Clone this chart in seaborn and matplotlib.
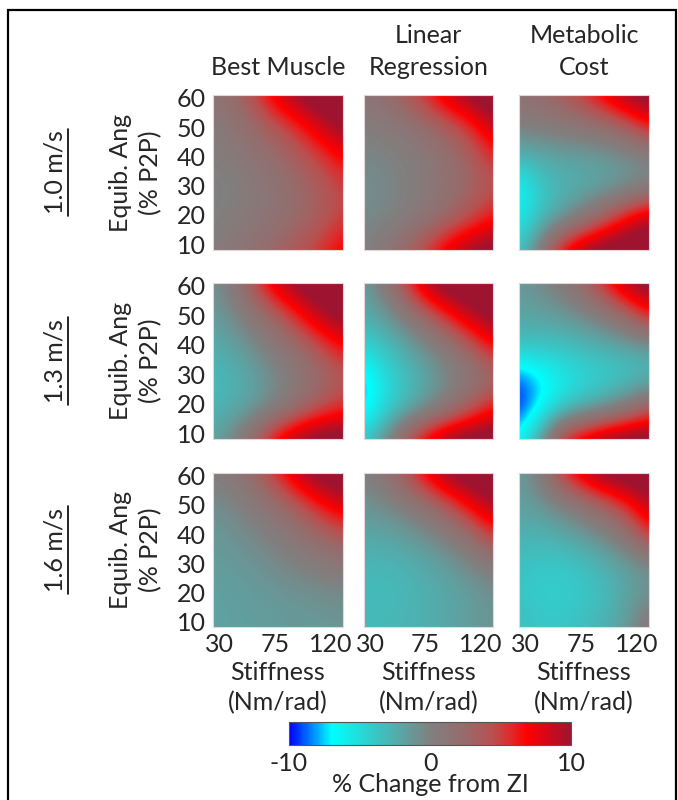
import numpy as np
import seaborn as sns
import matplotlib
matplotlib.use("Agg")
import matplotlib.pyplot as plt
from matplotlib.colors import LinearSegmentedColormap, Normalize
from matplotlib.patches import Rectangle
from matplotlib.lines import Line2D

# grid (stiffness across, equilibrium angle up)
stiffness = [25, 42.5, 60, 77.5, 95, 112.5, 130]
angle = [8, 18.6, 29.2, 39.8, 50.4, 61]

speeds = ["1.0 m/s", "1.3 m/s", "1.6 m/s"]
methods = ["\nBest Muscle", "Linear\nRegression", "Metabolic\nCost"]
x_ticks = [30, 75, 120]
y_ticks = [10, 20, 30, 40, 50, 60]
cb_ticks = [-10, 0, 10]

# % change from ZI, rows = angle from low to high
best_10 = [[0.5, 1.2, 2, 3, 4.2, 5.5, 7.5],
           [0, 0.5, 1, 1.7, 2.5, 3.5, 5],
           [-0.3, 0.2, 0.8, 1.5, 2.5, 3.5, 4.8],
           [0.3, 0.8, 1.5, 2.3, 3.5, 5, 7],
           [0.7, 1.3, 2.5, 4, 6, 8.5, 10.5],
           [1.5, 2.5, 5, 8.5, 10.5, 12, 12]]
linreg_10 = [[0, 1.3, 3, 5.5, 8.5, 10.5, 11.5],
             [-0.7, -0.3, 0.5, 1.5, 2.8, 4.5, 6.5],
             [-0.8, -0.5, 0, 0.8, 1.7, 2.8, 4],
             [-0.5, -0.2, 0.3, 1, 2, 3.3, 5.5],
             [0.3, 0.7, 1.2, 2.2, 3.5, 5.5, 9],
             [1.3, 2.2, 3.8, 6.2, 9, 11, 12]]
metab_10 = [[-4, 1, 7.5, 10.5, 12, 12, 12],
            [-6, -3.5, -1.5, 1, 4, 7.5, 10],
            [-7, -4, -3, -2.5, -2, -1.2, 0],
            [-3, -2.4, -2, -1.8, -1.5, -1, -0.5],
            [0.2, 0.5, 0.8, 1.3, 2, 3.5, 6.5],
            [1.7, 2.5, 3.7, 5.5, 8, 10.5, 11.5]]

best_13 = [[-2, 0, 3.5, 8, 10.5, 12, 12],
           [-3, -2.5, -1.5, 0, 2, 4, 5.5],
           [-3.2, -2.8, -1.8, -0.5, 1, 2.2, 3.5],
           [-2.5, -1.8, -0.5, 1, 2.5, 4.5, 7],
           [-1.5, -0.5, 1.5, 3.5, 6.5, 9.5, 11],
           [-1, 1, 5, 9, 11, 12, 12]]
linreg_13 = [[-4, -0.5, 4.5, 8.5, 11, 12, 12],
             [-8, -5, -3, -1.2, 1, 3.5, 6.5],
             [-8, -5, -3.5, -2, -0.5, 0.8, 2],
             [-4.5, -3.5, -2, -0.5, 1.2, 3.5, 7],
             [-2.5, -1.3, 0.8, 3.5, 6.5, 9.5, 11],
             [-1.5, 1, 5.5, 10, 12, 12, 12]]
metab_13 = [[-6.5, -1.5, 6.5, 9, 11, 12, 12],
            [-10, -7, -4.5, -3, -1.5, 0.5, 3.5],
            [-9, -7.5, -6, -5, -4.5, -4, -3.5],
            [-3.5, -3.5, -3.5, -3, -2.5, -2, -1.5],
            [-2, -1.8, -1.3, -0.5, 0.8, 3, 6.5],
            [-1.3, -0.5, 0.8, 3, 6.5, 10, 11.5]]

best_16 = [[-1.8, -1.7, -1.6, -1.5, -1.4, -1.3, -1.2],
           [-1.8, -1.7, -1.5, -1.3, -1.1, -0.9, -0.7],
           [-1.6, -1.4, -1.1, -0.6, 0, 0.5, 1],
           [-1.3, -1, -0.3, 0.5, 1.5, 2.7, 4],
           [-0.8, -0.2, 0.8, 2.2, 4, 6.5, 8.5],
           [0.5, 1, 3, 6, 9.5, 11.5, 12]]
linreg_16 = [[-3, -3, -2.8, -2.5, -2, -1.5, -1],
             [-3.3, -3.3, -3, -2.6, -2.2, -1.6, -1],
             [-3, -3, -2.7, -2.2, -1.5, -0.5, 0.5],
             [-2.2, -2, -1.5, -0.7, 0.5, 2.3, 5.5],
             [-1, -0.5, 0.5, 2.2, 4.5, 7.5, 10],
             [0, 1.5, 4.5, 8, 11, 12, 12]]
metab_16 = [[-3.3, -3.8, -3.8, -3.3, -2.5, -1.5, 1.5],
            [-3.8, -4.3, -4.3, -4, -3.3, -2, -0.8],
            [-3.5, -4, -4, -3.5, -2.7, -1.8, -1],
            [-2.7, -2.8, -2.3, -1.5, -0.3, 1.5, 5.5],
            [-1.8, -1.2, 0, 1.5, 3.5, 6, 9.5],
            [-1.5, 0.5, 5.5, 9, 11.5, 12, 12]]

panels = [[best_10, linreg_10, metab_10],
          [best_13, linreg_13, metab_13],
          [best_16, linreg_16, metab_16]]

sns.set_theme(style="white")
plt.rcParams["font.family"] = ["Lato", "DejaVu Sans"]
plt.rcParams["axes.unicode_minus"] = False
FS = 18

cmap = LinearSegmentedColormap.from_list(
    "zi", [(0.0, "#0000ff"), (0.15, "#00ffff"), (0.5, "#808080"),
           (0.62, "#966c6c"), (0.72, "#b95050"), (0.79, "#e12828"),
           (0.845, "#ff0000"), (1.0, "#9e1430")])
norm = Normalize(-10, 10)

W, H = 678, 800
fig = plt.figure(figsize=(W / 100, H / 100), dpi=100)


def fx(px):
    return px / W


def fy(px):
    return 1 - px / H


col_px = [(213, 343), (364, 493), (519, 649)]
row_px = [(95, 250), (283, 439), (473, 627)]

dx = (stiffness[1] - stiffness[0]) / 2
dy = (angle[1] - angle[0]) / 2
ext = [stiffness[0] - dx, stiffness[-1] + dx, angle[0] - dy, angle[-1] + dy]

for i, (y0, y1) in enumerate(row_px):
    for j, (x0, x1) in enumerate(col_px):
        ax = fig.add_axes([fx(x0), fy(y1), (x1 - x0) / W, (y1 - y0) / H])
        ax.imshow(np.array(panels[i][j]), origin="lower", extent=ext,
                  aspect="auto", cmap=cmap, norm=norm, interpolation="bicubic")
        ax.set_xlim(stiffness[0], stiffness[-1])
        ax.set_ylim(angle[0], angle[-1])
        for s in ax.spines.values():
            s.set_color("#e6d6da")
            s.set_linewidth(0.8)
        ax.tick_params(length=0, labelsize=FS)
        ax.set_xticks(x_ticks)
        ax.set_yticks(y_ticks)
        if j == 0:
            ax.tick_params(axis="y", pad=5)
        else:
            ax.set_yticklabels([])
        if i == 2:
            ax.tick_params(axis="x", pad=4)
            xc = (x0 + x1) / 2
            fig.text(fx(xc), fy(680), "Stiffness", ha="center",
                     va="baseline", fontsize=FS)
            fig.text(fx(xc), fy(710), "(Nm/rad)", ha="center",
                     va="baseline", fontsize=FS)
        else:
            ax.set_xticklabels([])

# column titles, one line at a time
for j, (x0, x1) in enumerate(col_px):
    for line, base in zip(methods[j].split("\n"), [43, 75]):
        if line:
            fig.text(fx((x0 + x1) / 2), fy(base), line, ha="center",
                     va="baseline", fontsize=FS)

row_texts = []
for i, (y0, y1) in enumerate(row_px):
    yc = fy((y0 + y1) / 2)
    fig.text(fx(120), yc, "Equib. Ang", rotation=90, ha="center",
             va="center", fontsize=FS)
    fig.text(fx(151), yc, "(% P2P)", rotation=90, ha="center",
             va="center", fontsize=FS)
    row_texts.append(fig.text(fx(55), yc, speeds[i], rotation=90,
                              ha="center", va="center", fontsize=FS))

cax = fig.add_axes([fx(289), fy(745), 282 / W, 23 / H])
cb = fig.colorbar(plt.cm.ScalarMappable(norm=norm, cmap=cmap), cax=cax,
                  orientation="horizontal", ticks=cb_ticks)
cb.outline.set_edgecolor("#555555")
cb.outline.set_linewidth(0.8)
cax.tick_params(length=0, labelsize=FS, pad=5)
fig.text(fx(430), fy(792), "% Change from ZI", ha="center", va="baseline",
         fontsize=FS)

# underline the speed labels
fig.canvas.draw()
inv = fig.transFigure.inverted()
for t in row_texts:
    bb = t.get_window_extent()
    (ax0, ay0), (ax1, ay1) = inv.transform([[bb.x1 + 1, bb.y0 - 2],
                                            [bb.x1 + 1, bb.y1 + 2]])
    fig.add_artist(Line2D([ax0, ax1], [ay0, ay1], color="black", lw=1.2,
                          transform=fig.transFigure))

# outer frame
fig.add_artist(Rectangle((fx(8), -0.02), (676 - 8) / W, 1 - 10 / H + 0.02,
                         fill=False, edgecolor="black", lw=1.6,
                         transform=fig.transFigure))

fig.savefig("out.png", dpi=100)
